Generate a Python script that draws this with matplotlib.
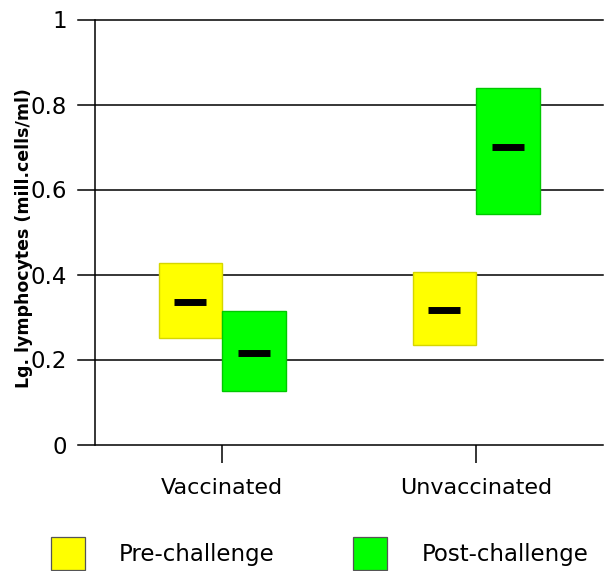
import matplotlib
matplotlib.use("Agg")
import matplotlib.pyplot as plt
from matplotlib.patches import Rectangle
from matplotlib.lines import Line2D
import numpy as np

plt.rcParams['font.family'] = ['DejaVu Sans']

# Data: range (low/high) and mean per group and challenge phase
groups = ["Vaccinated", "Unvaccinated"]
series = ["Pre-challenge", "Post-challenge"]
pre_low = [0.250, 0.234]
pre_high = [0.426, 0.405]
pre_mean = [0.335, 0.316]
post_low = [0.126, 0.543]
post_high = [0.314, 0.838]
post_mean = [0.216, 0.700]
y_ticks = [0, 0.2, 0.4, 0.6, 0.8, 1.0]
y_ticklabels = ["0", "0.2", "0.4", "0.6", "0.8", "1"]
y_label = "Lg. lymphocytes (mill.cells/ml)"

fills = ["#ffff00", "#00ff00"]
edges = ["#d6d600", "#00c800"]

W, H = 605, 571
fig = plt.figure(figsize=(W / 100, H / 100), dpi=100)
ax = fig.add_axes([95 / W, 1 - 444.5 / H, 508 / W, 425 / H])

x = np.arange(1, len(groups) + 1)
box_w = 0.25
mark_half = 0.063

for i, (low, high, mean) in enumerate([(pre_low, pre_high, pre_mean),
                                       (post_low, post_high, post_mean)]):
    low = np.array(low)
    high = np.array(high)
    xc = x + (i - 0.5) * box_w
    ax.bar(xc, high - low, bottom=low, width=box_w, color=fills[i],
           edgecolor=edges[i], linewidth=1.0, zorder=3)
    ax.hlines(mean, xc - mark_half, xc + mark_half, colors="black",
              linewidth=5, zorder=4)

ax.set_xlim(0.5, 2.5)
ax.set_ylim(0, 1)

# horizontal grid lines that run a little past the y axis on the left
for yv in y_ticks:
    ax.add_line(Line2D([-0.034, 1.0], [yv, yv], transform=ax.get_yaxis_transform(),
                       color="black", linewidth=1.1, clip_on=False, zorder=1))

for s in ["top", "right"]:
    ax.spines[s].set_visible(False)
ax.spines["bottom"].set_visible(False)
ax.spines["left"].set_linewidth(1.1)

ax.set_yticks(y_ticks)
ax.set_yticklabels(y_ticklabels, fontsize=16.5)
ax.tick_params(axis="y", length=0, pad=20)

ax.set_xticks(x)
ax.set_xticklabels(groups, fontsize=16)
ax.tick_params(axis="x", direction="out", length=13, width=1.1, pad=11)

fig.text(24 / W, 1 - 238 / H, y_label, rotation=90, ha="center", va="center",
         fontsize=12.5, fontweight="bold")

# legend
legend_boxes = [51, 353]
legend_texts = [119, 422]
for i, name in enumerate(series):
    fig.add_artist(Rectangle((legend_boxes[i] / W, 1 - 570 / H), 34 / W, 33 / H,
                             facecolor=fills[i], edgecolor="#555555", linewidth=0.9,
                             transform=fig.transFigure))
    fig.text(legend_texts[i] / W, 1 - 555 / H, name, ha="left", va="center",
             fontsize=16.5)

fig.savefig("out.png", dpi=100)
